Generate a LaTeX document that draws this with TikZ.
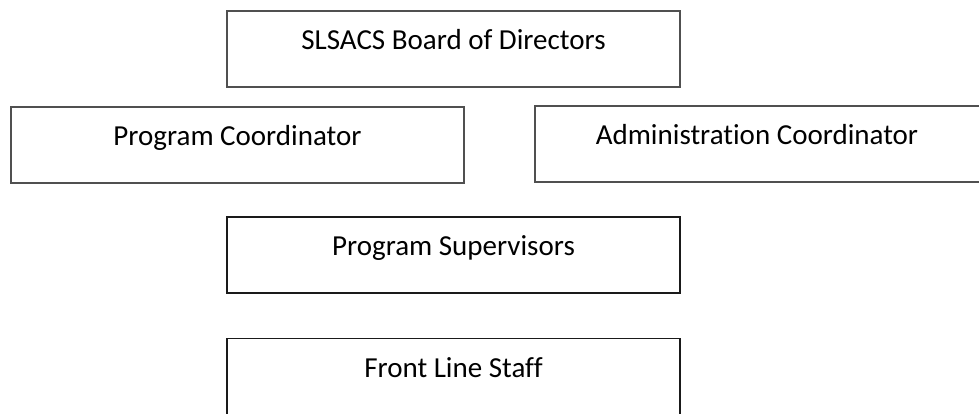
\documentclass[tikz,border=0pt]{standalone}
\usepackage{fontspec}
\setmainfont{Carlito}[Ligatures=NoCommon]
\usetikzlibrary{calc}
\definecolor{edgegray}{HTML}{505050}
\definecolor{edgedark}{HTML}{1A1A1A}
\tikzset{
  box/.style={draw=edgegray, line width=1.3pt, rectangle, inner sep=0pt, outer sep=0pt,
              minimum width=453pt, minimum height=76pt},
  darkbox/.style={box, draw=edgedark},
  txt/.style={anchor=base, inner sep=0pt, font=\fontsize{29}{35}\selectfont, text=black}
}
\begin{document}
\begin{tikzpicture}[x=1pt,y=-1pt]
\useasboundingbox (0,0) rectangle (979,414);
% boxes
\node[box] (board) at (453.5,49) {};
\node[box] (pc) at (237.5,145) {};
\node[box, minimum width=446pt] (ac) at (758,144) {};
\node[darkbox] (ps) at (453.5,255) {};
\node[darkbox] (fls) at (453.5,376.5) {};
% texts
\node[txt] (boardt) at ($(board.north)+(0,38.5)$) {SLSACS Board of Directors};
\node[txt] (pct) at ($(pc.north)+(0,38.5)$) {Program Coordinator};
\node[txt] (act) at ($(ac.north)+(-1,38.5)$) {Administration Coordinator};
\node[txt] (pst) at ($(ps.north)+(0,38.5)$) {Program Supervisors};
\node[txt] (flst) at ($(fls.north)+(0,38.5)$) {Front Line Staff};
\end{tikzpicture}
\end{document}
